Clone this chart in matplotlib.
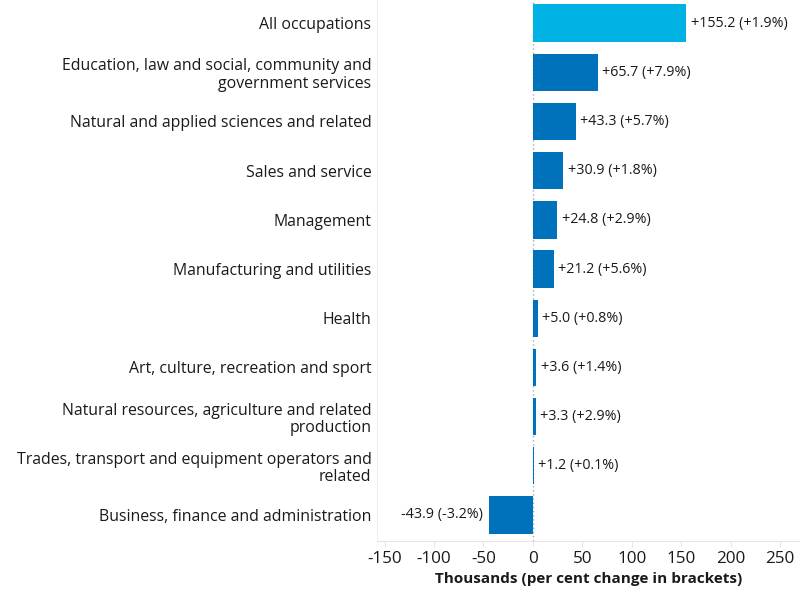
import numpy as np
import matplotlib.pyplot as plt

plt.rcParams['font.family'] = ['Open Sans', 'DejaVu Sans']

categories = [
    'All occupations',
    'Education, law and social, community and\ngovernment services',
    'Natural and applied sciences and related',
    'Sales and service',
    'Management',
    'Manufacturing and utilities',
    'Health',
    'Art, culture, recreation and sport',
    'Natural resources, agriculture and related\nproduction',
    'Trades, transport and equipment operators and\nrelated',
    'Business, finance and administration',
]
change_k = [155.2, 65.7, 43.3, 30.9, 24.8, 21.2, 5.0, 3.6, 3.3, 1.2, -43.9]
change_pct = [1.9, 7.9, 5.7, 1.8, 2.9, 5.6, 0.8, 1.4, 2.9, 0.1, -3.2]
xticks = [-150, -100, -50, 0, 50, 100, 150, 200, 250]

text_col = '#1a1a1a'
fig = plt.figure(figsize=(8, 6), dpi=100)
ax = fig.add_axes([377 / 800, 1 - 541 / 600, 423 / 800, 541 / 600])

y = np.arange(len(categories))
colors = ['#00B2E3'] + ['#0072BC'] * (len(categories) - 1)
ax.barh(y, change_k, height=0.76, color=colors, zorder=2)

for yi, v, p in zip(y, change_k, change_pct):
    lab = f'{v:+.1f} ({p:+.1f}%)'
    if v >= 0:
        ax.annotate(lab, (v, yi), xytext=(3, 0), textcoords='offset points',
                    ha='left', va='center', fontsize=10.3, color=text_col)
    else:
        ax.annotate(lab, (v, yi), xytext=(-5, 0), textcoords='offset points',
                    ha='right', va='center', fontsize=10.3, color=text_col)

ax.axvline(0, color='#aaaaaa', linestyle=(0, (1, 2)), linewidth=1, zorder=1)

ax.set_xlim(-157.6, 270)
ax.set_ylim(10.53, -0.47)
ax.set_yticks(y)
ax.set_yticklabels(categories, fontsize=11.4, color=text_col, linespacing=1.12)
ax.set_xticks(xticks)
ax.set_xticklabels([str(t) for t in xticks], fontsize=12.3, color=text_col)
ax.tick_params(axis='y', length=0, pad=4)
ax.tick_params(axis='x', length=4, color='#e6e6e6', pad=3)

for s in ['top', 'right']:
    ax.spines[s].set_visible(False)
ax.spines['left'].set_color('#f0f0f0')
ax.spines['bottom'].set_color('#e6e6e6')

ax.set_xlabel('Thousands (per cent change in brackets)', fontsize=11,
              fontweight='bold', color=text_col, labelpad=4)

fig.savefig('out.png', dpi=100)
